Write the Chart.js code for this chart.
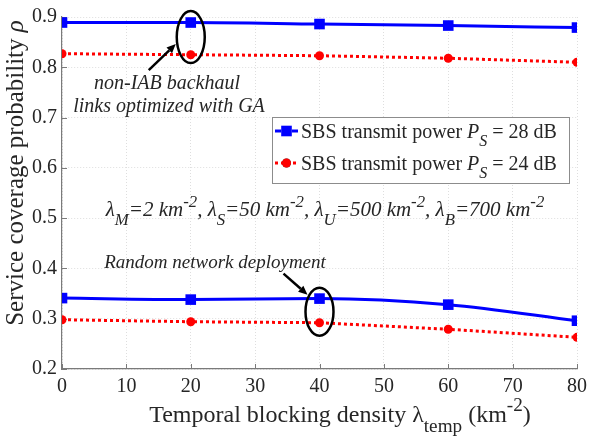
<!DOCTYPE html>
<html>
<head>
<meta charset="utf-8">
<script src="https://cdn.jsdelivr.net/npm/chart.js@4.4.1/dist/chart.umd.min.js"></script>
<style>
html,body{margin:0;padding:0;background:#fff;}
#wrap{width:593px;height:445px;position:relative;}
</style>
</head>
<body>
<div id="wrap"><canvas id="c" width="593" height="445"></canvas></div>
<script>
// ---- data ----
const xValues = [0, 20, 40, 60, 80];
const optimized28dB = [0.889, 0.889, 0.886, 0.883, 0.879];
const optimized24dB = [0.827, 0.825, 0.823, 0.818, 0.810];
const random28dB = [0.341, 0.338, 0.340, 0.328, 0.296];
const random24dB = [0.298, 0.294, 0.292, 0.279, 0.263];
const xTickValues = [0, 10, 20, 30, 40, 50, 60, 70, 80];
const yTickValues = [0.2, 0.3, 0.4, 0.5, 0.6, 0.7, 0.8, 0.9];
const legendLabels = ['28', '24'];

const FONT = "'Liberation Serif', 'Times New Roman', serif";
const TXT = '#262626';
const BLUE = '#0000ff';
const RED = '#ff0000';
const AXIS = '#7a7a7a';

const pts = arr => xValues.map((x, i) => ({x: x, y: arr[i]}));

function drawRich(ctx, segs, x, y, size, align) {
  let total = 0;
  const m = segs.map(s => {
    const sz = s.pos ? size * 0.8 : size;
    const f = (s.it ? 'italic ' : 'normal ') + sz + 'px ' + FONT;
    ctx.font = f;
    const w = ctx.measureText(s.t).width;
    total += w;
    return {s, f, w, sz};
  });
  let cx = align === 'center' ? x - total / 2 : (align === 'right' ? x - total : x);
  ctx.textBaseline = 'alphabetic';
  ctx.textAlign = 'left';
  m.forEach(o => {
    ctx.font = o.f;
    let dy = 0;
    if (o.s.pos === 'sub') dy = size * 0.42;
    if (o.s.pos === 'sup') dy = -size * 0.45;
    ctx.fillText(o.s.t, cx, y + dy);
    cx += o.w;
  });
  return total;
}

function arrow(ctx, x1, y1, x2, y2) {
  const a = Math.atan2(y2 - y1, x2 - x1);
  const hl = 9, hw = 4;
  ctx.beginPath();
  ctx.moveTo(x1, y1);
  ctx.lineTo(x2 - hl * Math.cos(a), y2 - hl * Math.sin(a));
  ctx.lineWidth = 2.5;
  ctx.strokeStyle = '#000';
  ctx.stroke();
  ctx.beginPath();
  ctx.moveTo(x2, y2);
  ctx.lineTo(x2 - hl * Math.cos(a) + hw * Math.sin(a), y2 - hl * Math.sin(a) - hw * Math.cos(a));
  ctx.lineTo(x2 - hl * Math.cos(a) - hw * Math.sin(a), y2 - hl * Math.sin(a) + hw * Math.cos(a));
  ctx.closePath();
  ctx.fillStyle = '#000';
  ctx.fill();
}

const innerTicks = {
  id: 'innerTicks',
  beforeDatasetsDraw(chart) {
    const ctx = chart.ctx, a = chart.chartArea;
    const xs = chart.scales.x, ys = chart.scales.y;
    ctx.save();
    ctx.strokeStyle = AXIS;
    ctx.lineWidth = 1;
    xTickValues.forEach(v => {
      const px = Math.round(xs.getPixelForValue(v)) + 0.5;
      ctx.beginPath(); ctx.moveTo(px, a.bottom); ctx.lineTo(px, a.bottom - 5); ctx.stroke();
    });
    yTickValues.forEach(v => {
      const py = Math.round(ys.getPixelForValue(v)) + 0.5;
      ctx.beginPath(); ctx.moveTo(a.left, py); ctx.lineTo(a.left + 5, py); ctx.stroke();
    });
    ctx.restore();
  }
};

const decor = {
  id: 'decor',
  afterDatasetsDraw(chart) {
    const ctx = chart.ctx;
    const xs = chart.scales.x, ys = chart.scales.y;
    ctx.save();
    ctx.fillStyle = TXT;

    // axis titles
    drawRich(ctx, [
      {t: 'Temporal blocking density '},
      {t: '\u03bb'},
      {t: 'temp', pos: 'sub'},
      {t: ' (km'},
      {t: '-2', pos: 'sup'},
      {t: ')'}
    ], 340, 422, 24, 'center');
    ctx.save();
    ctx.translate(23, 173);
    ctx.rotate(-Math.PI / 2);
    drawRich(ctx, [
      {t: 'Service coverage probability '},
      {t: '\u03c1', it: true}
    ], 0, 0, 25, 'center');
    ctx.restore();

    // parameter line
    const P = [];
    [['M', '2'], ['S', '50'], ['U', '500'], ['B', '700']].forEach((g, i) => {
      P.push({t: '\u03bb', it: true});
      P.push({t: g[0], it: true, pos: 'sub'});
      P.push({t: '=' + g[1] + ' km', it: true});
      P.push({t: '-2', it: true, pos: 'sup'});
      if (i < 3) P.push({t: ', ', it: true});
    });
    drawRich(ctx, P, 325, 216, 21, 'center');

    // annotations
    const e1x = xs.getPixelForValue(20), e1y = ys.getPixelForValue(0.860);
    const e2x = xs.getPixelForValue(40), e2y = ys.getPixelForValue(0.314);
    ctx.lineWidth = 2.5;
    ctx.strokeStyle = '#000';
    ctx.beginPath();
    ctx.ellipse(e1x, e1y, 14, 26, 0, 0, Math.PI * 2);
    ctx.stroke();
    ctx.beginPath();
    ctx.ellipse(e2x, e2y, 14, 24, 0, 0, Math.PI * 2);
    ctx.stroke();
    arrow(ctx, e1x - 42, e1y + 33, e1x - 15, e1y + 7);
    arrow(ctx, e2x - 36, e2y - 38, e2x - 12, e2y - 17);

    ctx.fillStyle = TXT;
    drawRich(ctx, [{t: 'non-IAB backhaul', it: true}], 167, 89, 20, 'center');
    drawRich(ctx, [{t: 'links optimized with GA', it: true}], 169, 112, 20, 'center');
    drawRich(ctx, [{t: 'Random network deployment', it: true}], 215, 268, 19, 'center');

    // legend
    const lx = 272, ly = 117, lw = 297, lh = 66;
    ctx.fillStyle = '#fff';
    ctx.fillRect(lx, ly, lw, lh);
    ctx.lineWidth = 1;
    ctx.strokeStyle = '#8c8c8c';
    ctx.strokeRect(lx + 0.5, ly + 0.5, lw, lh);
    const rows = [131, 163];
    [0, 1].forEach(i => {
      const ds = chart.data.datasets[i];
      const cy = rows[i];
      ctx.save();
      ctx.strokeStyle = ds.borderColor;
      ctx.lineWidth = ds.borderWidth;
      ctx.setLineDash(ds.borderDash || []);
      ctx.beginPath();
      ctx.moveTo(275, cy);
      ctx.lineTo(298, cy);
      ctx.stroke();
      ctx.restore();
      Chart.helpers.drawPoint(ctx, {pointStyle: ds.pointStyle, radius: ds.pointRadius, rotation: 0, borderWidth: 0}, 286.5, cy);
      ctx.fillStyle = ds.pointBackgroundColor;
      ctx.fill();
      ctx.fillStyle = TXT;
      drawRich(ctx, [
        {t: 'SBS transmit power '},
        {t: 'P', it: true},
        {t: 'S', it: true, pos: 'sub'},
        {t: ' = ' + legendLabels[i] + ' dB'}
      ], 301, cy + 7, 20, 'left');
    });
    ctx.restore();
  }
};

const mk = (data, color, dashed, style, r, mono) => ({
  data: pts(data),
  borderColor: color,
  backgroundColor: color,
  pointBackgroundColor: color,
  pointBorderColor: color,
  pointBorderWidth: 0,
  borderWidth: 3,
  borderDash: dashed ? [3, 3] : [],
  pointStyle: style,
  pointRadius: r,
  cubicInterpolationMode: mono ? 'monotone' : 'default',
  tension: 0,
  fill: false
});

new Chart(document.getElementById('c'), {
  type: 'line',
  data: {
    datasets: [
      mk(optimized28dB, BLUE, false, 'rect', 7.5, true),
      mk(optimized24dB, RED, true, 'circle', 4.5, false),
      mk(random28dB, BLUE, false, 'rect', 7.5, true),
      mk(random24dB, RED, true, 'circle', 4.5, false)
    ]
  },
  options: {
    responsive: false,
    animation: false,
    devicePixelRatio: 1,
    layout: {padding: {top: 12, right: 11, left: 0, bottom: 0}},
    plugins: {legend: {display: false}, tooltip: {enabled: false}},
    scales: {
      x: {
        type: 'linear', min: 0, max: 80,
        afterBuildTicks: s => { s.ticks = xTickValues.map(v => ({value: v})); },
        afterFit: s => { s.height = 76; },
        ticks: {font: {family: FONT, size: 20}, color: TXT, padding: 6, maxRotation: 0,
          callback: v => String(v)},
        grid: {color: '#dedede', drawTicks: false, lineWidth: 1},
        border: {color: AXIS, width: 1.2, dash: [1, 2]}
      },
      y: {
        type: 'linear', min: 0.2, max: 0.9,
        afterBuildTicks: s => { s.ticks = yTickValues.map(v => ({value: v})); },
        afterFit: s => { s.width = 62; },
        ticks: {font: {family: FONT, size: 20}, color: TXT, padding: 5,
          callback: v => Number(v).toFixed(1)},
        grid: {color: '#dedede', drawTicks: false, lineWidth: 1},
        border: {color: AXIS, width: 1.2, dash: [1, 2]}
      }
    }
  },
  plugins: [innerTicks, decor]
});
</script>
</body>
</html>
